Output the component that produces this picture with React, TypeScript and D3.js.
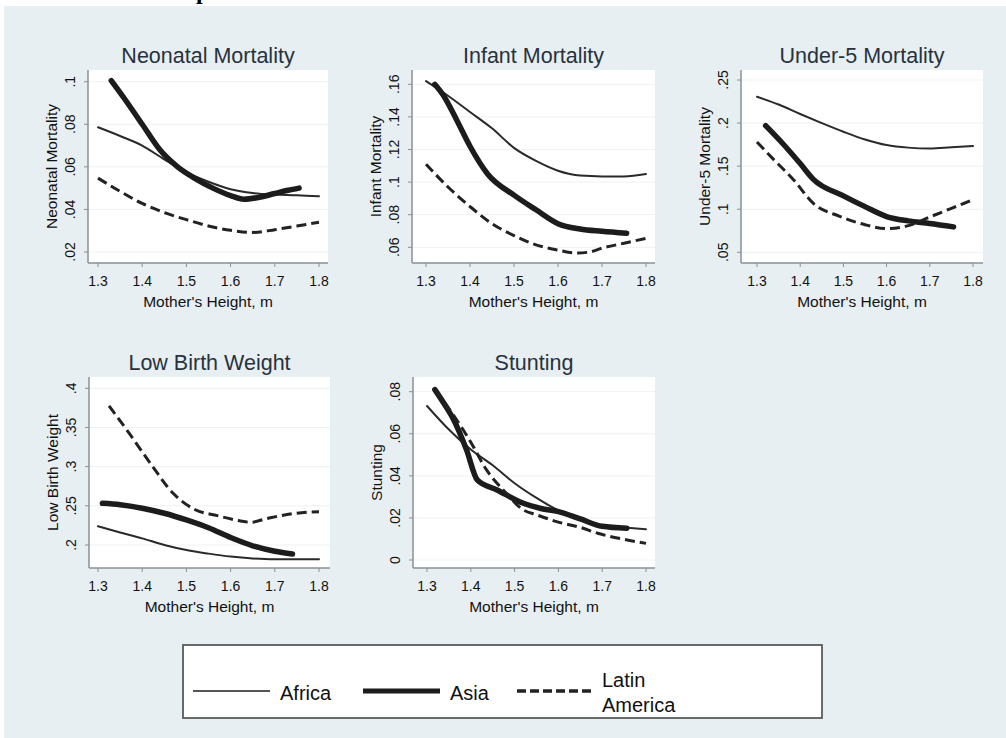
import React from "react";
import * as d3 from "d3";

type Pt = [number, number];

// ---- Data (mother's height in m, outcome rate) ----
const xTicks = [1.3, 1.4, 1.5, 1.6, 1.7, 1.8];

const neonatalAfrica: Pt[] = [[1.30,0.0786],[1.35,0.0745],[1.40,0.0700],[1.45,0.0635],[1.50,0.0575],[1.55,0.0530],[1.60,0.0495],[1.65,0.0477],[1.70,0.0470],[1.75,0.0467],[1.80,0.0462]];
const neonatalAsia: Pt[] = [[1.33,0.1005],[1.36,0.0920],[1.40,0.0800],[1.44,0.0680],[1.48,0.0600],[1.52,0.0545],[1.56,0.0500],[1.60,0.0465],[1.63,0.0448],[1.66,0.0455],[1.70,0.0475],[1.73,0.0490],[1.755,0.0500]];
const neonatalLatin: Pt[] = [[1.30,0.0547],[1.35,0.0485],[1.40,0.0428],[1.45,0.0385],[1.50,0.0352],[1.55,0.0322],[1.60,0.0302],[1.65,0.0292],[1.70,0.0305],[1.75,0.0322],[1.80,0.0340]];

const infantAfrica: Pt[] = [[1.30,0.162],[1.35,0.153],[1.40,0.143],[1.45,0.133],[1.50,0.121],[1.55,0.113],[1.60,0.107],[1.65,0.104],[1.70,0.1035],[1.75,0.1035],[1.80,0.105]];
const infantAsia: Pt[] = [[1.32,0.160],[1.34,0.153],[1.37,0.138],[1.40,0.122],[1.44,0.105],[1.50,0.092],[1.55,0.083],[1.60,0.0745],[1.65,0.0712],[1.70,0.0698],[1.756,0.0686]];
const infantLatin: Pt[] = [[1.30,0.111],[1.35,0.097],[1.40,0.085],[1.45,0.0745],[1.50,0.0672],[1.55,0.0615],[1.60,0.0583],[1.64,0.0565],[1.67,0.0570],[1.70,0.0595],[1.75,0.0625],[1.80,0.0655]];

const under5Africa: Pt[] = [[1.30,0.2306],[1.35,0.2215],[1.40,0.2105],[1.45,0.200],[1.50,0.190],[1.55,0.181],[1.60,0.1745],[1.65,0.1715],[1.70,0.1705],[1.75,0.172],[1.80,0.1735]];
const under5Asia: Pt[] = [[1.32,0.197],[1.36,0.176],[1.40,0.153],[1.43,0.135],[1.50,0.1155],[1.55,0.103],[1.60,0.0915],[1.65,0.0865],[1.70,0.0835],[1.755,0.0795]];
const under5Latin: Pt[] = [[1.30,0.178],[1.34,0.157],[1.385,0.134],[1.43,0.107],[1.49,0.092],[1.55,0.082],[1.60,0.0775],[1.65,0.081],[1.70,0.091],[1.75,0.101],[1.80,0.111]];

const lbwAfrica: Pt[] = [[1.30,0.2239],[1.35,0.216],[1.40,0.2085],[1.45,0.200],[1.50,0.1936],[1.55,0.189],[1.60,0.1852],[1.65,0.1828],[1.70,0.1818],[1.75,0.1818],[1.80,0.1818]];
const lbwAsia: Pt[] = [[1.31,0.2532],[1.35,0.2515],[1.40,0.247],[1.45,0.2405],[1.50,0.232],[1.55,0.222],[1.60,0.2095],[1.65,0.199],[1.70,0.192],[1.74,0.1885]];
const lbwLatin: Pt[] = [[1.325,0.3775],[1.37,0.343],[1.42,0.303],[1.47,0.266],[1.52,0.245],[1.57,0.2375],[1.62,0.231],[1.645,0.229],[1.68,0.2335],[1.74,0.240],[1.80,0.2425]];

const stuntAfrica: Pt[] = [[1.30,0.0732],[1.35,0.062],[1.40,0.0525],[1.45,0.045],[1.50,0.0365],[1.55,0.0295],[1.60,0.0235],[1.65,0.019],[1.70,0.0165],[1.75,0.0155],[1.80,0.0146]];
const stuntAsia: Pt[] = [[1.318,0.081],[1.34,0.074],[1.36,0.067],[1.39,0.0525],[1.415,0.038],[1.46,0.0333],[1.52,0.027],[1.56,0.0245],[1.60,0.023],[1.65,0.0195],[1.70,0.016],[1.756,0.0151]];
const stuntLatin: Pt[] = [[1.32,0.0806],[1.36,0.069],[1.40,0.056],[1.436,0.0428],[1.474,0.0333],[1.52,0.0238],[1.55,0.0215],[1.60,0.018],[1.65,0.0155],[1.69,0.0127],[1.75,0.0098],[1.80,0.0079]];

const neonatalTicks = [0.02, 0.04, 0.06, 0.08, 0.1];
const infantTicks = [0.06, 0.08, 0.1, 0.12, 0.14, 0.16];
const under5Ticks = [0.05, 0.1, 0.15, 0.2, 0.25];
const lbwTicks = [0.2, 0.25, 0.3, 0.35, 0.4];
const stuntTicks = [0, 0.02, 0.04, 0.06, 0.08];

const panelTitles = ["Neonatal Mortality", "Infant Mortality", "Under-5 Mortality", "Low Birth Weight", "Stunting"];
const legendLabels = ["Africa", "Asia", "Latin America"];

// ---- Layout ----
const FONT = "'Liberation Sans', Arial, Helvetica, sans-serif";
const BG = "#e8eff2";
const AXIS = "#8a9096";
const TITLE = "#27323e";

const seriesStyle = [
  { w: 2, dash: undefined as string | undefined, color: "#2a2a2a" },
  { w: 5.5, dash: undefined as string | undefined, color: "#1c1c1c" },
  { w: 3, dash: "10,5", color: "#222" },
];

interface PanelSpec {
  title: string;
  box: [number, number, number, number]; // left, top, right, bottom
  xr: [number, number];
  yd: [number, number];
  yr: [number, number];
  ticks: number[];
  series: Pt[][];
}

const panels: PanelSpec[] = [
  { title: panelTitles[0], box: [88, 70, 328, 263], xr: [98, 319], yd: [0.02, 0.1], yr: [252, 81.7], ticks: neonatalTicks, series: [neonatalAfrica, neonatalAsia, neonatalLatin] },
  { title: panelTitles[1], box: [412, 70, 655, 263], xr: [426, 646], yd: [0.06, 0.16], yr: [247.3, 84.3], ticks: infantTicks, series: [infantAfrica, infantAsia, infantLatin] },
  { title: panelTitles[2], box: [741, 70, 983, 263], xr: [757, 973], yd: [0.05, 0.25], yr: [252.3, 80], ticks: under5Ticks, series: [under5Africa, under5Asia, under5Latin] },
  { title: panelTitles[3], box: [89, 377, 330, 568], xr: [98, 319], yd: [0.2, 0.4], yr: [545, 388.3], ticks: lbwTicks, series: [lbwAfrica, lbwAsia, lbwLatin] },
  { title: panelTitles[4], box: [413, 377, 655, 568], xr: [427, 646], yd: [0, 0.08], yr: [560, 391.7], ticks: stuntTicks, series: [stuntAfrica, stuntAsia, stuntLatin] },
];

const fmtY = (v: number) => (v === 0 ? "0" : String(+v.toFixed(3)).replace(/^0\./, "."));

function Panel({ p }: { p: PanelSpec }) {
  const [L, T, R, B] = p.box;
  const x = d3.scaleLinear().domain([1.3, 1.8]).range(p.xr);
  const y = d3.scaleLinear().domain(p.yd).range(p.yr);
  const line = d3.line<Pt>().x((d) => x(d[0])).y((d) => y(d[1])).curve(d3.curveMonotoneX);
  const cx = (L + R) / 2;
  const cy = (T + B) / 2;
  return (
    <g>
      <rect x={L} y={T} width={R - L} height={B - T} fill="#ffffff" />
      {p.ticks.map((t) => (
        <line key={"g" + t} x1={L} x2={R} y1={y(t)} y2={y(t)} stroke="#edf2f4" strokeWidth={1} />
      ))}
      {p.series.map((s, i) => (
        <path key={"s" + i} d={line(s) || ""} fill="none" stroke={seriesStyle[i].color}
          strokeWidth={seriesStyle[i].w} strokeDasharray={seriesStyle[i].dash}
          strokeLinejoin="round" strokeLinecap={seriesStyle[i].dash ? "butt" : "round"} />
      ))}
      <line x1={L} x2={L} y1={T} y2={B} stroke={AXIS} strokeWidth={1.5} />
      <line x1={L} x2={R} y1={B} y2={B} stroke={AXIS} strokeWidth={1.5} />
      {p.ticks.map((t) => (
        <g key={"y" + t}>
          <line x1={L - 4} x2={L} y1={y(t)} y2={y(t)} stroke={AXIS} strokeWidth={1} />
          <text transform={`translate(${L - 13},${y(t)}) rotate(-90)`} textAnchor="middle"
            fontSize={14} fill="#111" fontFamily={FONT}>{fmtY(t)}</text>
        </g>
      ))}
      {xTicks.map((t) => (
        <g key={"x" + t}>
          <line x1={x(t)} x2={x(t)} y1={B} y2={B + 4} stroke={AXIS} strokeWidth={1} />
          <text x={x(t)} y={B + 23} textAnchor="middle" fontSize={14} fill="#111" fontFamily={FONT}>{t.toFixed(1)}</text>
        </g>
      ))}
      <text x={cx} y={B + 44} textAnchor="middle" fontSize={15.5} fill="#111" fontFamily={FONT}>Mother's Height, m</text>
      <text transform={`translate(${L - 31},${cy}) rotate(-90)`} textAnchor="middle" fontSize={15.5} fill="#111" fontFamily={FONT}>{p.title}</text>
      <text x={cx} y={T - 7} textAnchor="middle" fontSize={21.5} fill={TITLE} fontFamily={FONT}>{p.title}</text>
    </g>
  );
}

function Legend() {
  const lx = d3.scaleOrdinal<string, number>().domain(legendLabels).range([193, 363, 517]);
  const ly = 691;
  return (
    <g>
      <rect x={183} y={645} width={639} height={73} fill="#ffffff" stroke="#5a5a5a" strokeWidth={1.8} />
      {legendLabels.map((lab, i) => (
        <g key={lab}>
          <line x1={lx(lab)} x2={lx(lab) + 77} y1={ly} y2={ly} stroke={i === 0 ? "#555" : seriesStyle[i].color}
            strokeWidth={i === 0 ? 2 : i === 1 ? 5 : 3.5} strokeDasharray={seriesStyle[i].dash ? "9,4" : undefined} />
          {i < 2 ? (
            <text x={lx(lab) + 87} y={ly + 9} fontSize={20} fill="#111" fontFamily={FONT}>{lab}</text>
          ) : (
            <text x={lx(lab) + 85} y={ly - 4} fontSize={20} fill="#111" fontFamily={FONT}>
              <tspan x={lx(lab) + 85}>Latin</tspan>
              <tspan x={lx(lab) + 85} dy={25}>America</tspan>
            </text>
          )}
        </g>
      ))}
    </g>
  );
}

export default function App() {
  return (
    <div style={{ position: "absolute", left: 0, top: 0 }}>
      <svg width={1006} height={738} style={{ display: "block", background: "#fff" }}>
        <text x={196} y={-1} fontSize={24} fontWeight="bold" fontFamily="'Liberation Serif', 'Times New Roman', serif" fill="#000">p</text>
        <rect x={4} y={6} width={1002} height={732} fill={BG} />
        {panels.map((p, i) => (
          <Panel key={i} p={p} />
        ))}
        <Legend />
      </svg>
    </div>
  );
}
